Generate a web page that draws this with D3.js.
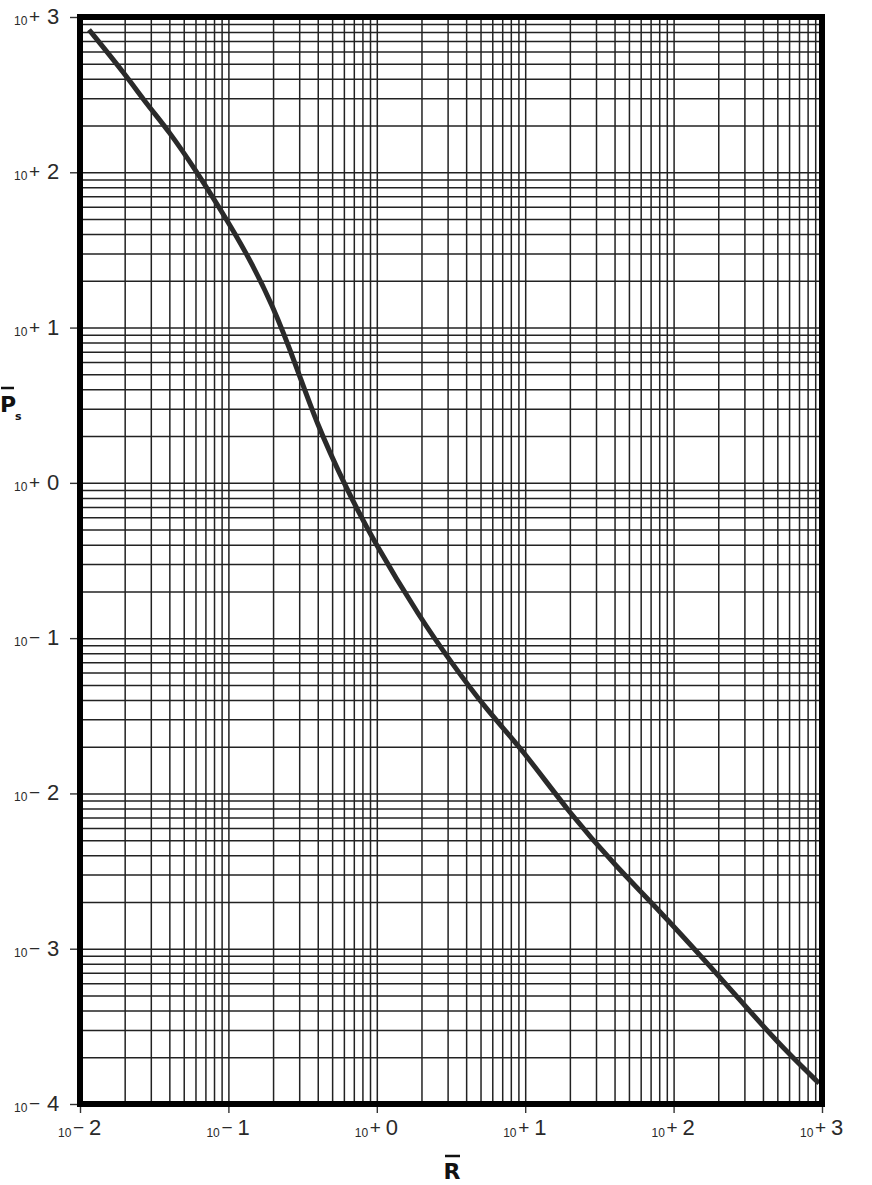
<!DOCTYPE html>
<html>
<head>
<meta charset="utf-8">
<script src="https://cdn.jsdelivr.net/npm/d3@7"></script>
<style>
  html, body { margin: 0; padding: 0; background: #fff; }
  svg { display: block; }
</style>
</head>
<body>
<script>
// ---- data ----
const xDecades = [-2, -1, 0, 1, 2, 3];          // exponents of R̄ axis
const yDecades = [-4, -3, -2, -1, 0, 1, 2, 3];  // exponents of P̄s axis
const xSignLabels = ["−", "−", "+", "+", "+", "+"];
const xDigitLabels = ["2", "1", "0", "1", "2", "3"];
const ySignLabels = ["−", "−", "−", "−", "+", "+", "+", "+"];
const yDigitLabels = ["4", "3", "2", "1", "0", "1", "2", "3"];
const minorMultipliers = [1, 2, 3, 4, 5, 6, 7, 8, 9];

// curve P̄s(R̄)
const curveR  = [0.0115, 0.0198, 0.0291, 0.0391, 0.0612, 0.0904, 0.131, 0.199, 0.288, 0.394, 0.607, 0.938, 2.00, 3.09, 5.48, 9.42, 19.8, 43.1, 71.8, 179, 420, 628, 955];
const curvePs = [828, 437, 264, 188, 101, 55.7, 30.8, 14.0, 5.58, 2.40, 0.97, 0.430, 0.131, 0.0724, 0.0345, 0.0196, 0.00748, 0.00321, 0.00197, 0.000762, 0.000300, 0.000201, 0.000136];

// ---- layout ----
const W = 872, H = 1185;
const pL = 80, pR = 822, pT = 17, pB = 1104;

const svg = d3.select("body").append("svg").attr("width", W).attr("height", H);

const x = d3.scaleLog().domain([1e-2, 1e3]).range([pL, pR]);
const y = d3.scaleLog().domain([1e-4, 1e3]).range([pB, pT]);

const gridX = [];
xDecades.slice(0, -1).forEach(e => minorMultipliers.forEach(m => gridX.push(m * Math.pow(10, e))));
gridX.push(1e3);
const gridY = [];
yDecades.slice(0, -1).forEach(e => minorMultipliers.forEach(m => gridY.push(m * Math.pow(10, e))));
gridY.push(1e3);

const gridColor = "#222";

// vertical grid
svg.append("g")
  .attr("transform", `translate(0,${pB})`)
  .call(d3.axisBottom(x).tickValues(gridX).tickSize(-(pB - pT)).tickFormat(""))
  .call(g => g.select(".domain").remove())
  .call(g => g.selectAll("line").attr("stroke", gridColor).attr("stroke-width", 1.5));

// horizontal grid
svg.append("g")
  .attr("transform", `translate(${pL},0)`)
  .call(d3.axisLeft(y).tickValues(gridY).tickSize(-(pR - pL)).tickFormat(""))
  .call(g => g.select(".domain").remove())
  .call(g => g.selectAll("line").attr("stroke", gridColor).attr("stroke-width", 1.5));

// decade ticks outside
const xDecVals = xDecades.map(e => Math.pow(10, e));
const yDecVals = yDecades.map(e => Math.pow(10, e));

svg.append("g")
  .attr("transform", `translate(0,${pB + 3})`)
  .call(d3.axisBottom(x).tickValues(xDecVals).tickSize(6).tickFormat(""))
  .call(g => g.select(".domain").remove())
  .call(g => g.selectAll("line").attr("stroke", "#333").attr("stroke-width", 1.4));

svg.append("g")
  .attr("transform", `translate(${pL - 3},0)`)
  .call(d3.axisLeft(y).tickValues(yDecVals).tickSize(7).tickFormat(""))
  .call(g => g.select(".domain").remove())
  .call(g => g.selectAll("line").attr("stroke", "#333").attr("stroke-width", 1.4));

// curve
const line = d3.line()
  .x((d, i) => x(curveR[i]))
  .y((d, i) => y(curvePs[i]))
  .curve(d3.curveBasis);
svg.append("path")
  .datum(curveR)
  .attr("d", line)
  .attr("fill", "none")
  .attr("stroke", "#2a2a2a")
  .attr("stroke-width", 5)
  .attr("stroke-linecap", "butt");

// border
svg.append("rect")
  .attr("x", pL).attr("y", pT)
  .attr("width", pR - pL).attr("height", pB - pT)
  .attr("fill", "none").attr("stroke", "#000").attr("stroke-width", 6);

// labels
const font = "'Liberation Sans', Arial, sans-serif";
const labColor = "#2a2a2a";

// x labels
const xl = svg.append("g").attr("fill", labColor).style("font-family", font);
xDecVals.forEach((v, i) => {
  const cx = x(v);
  xl.append("text").attr("x", cx - 22).attr("y", 1137).style("font-size", "12px").text("10");
  xl.append("text").attr("x", cx - 7).attr("y", 1134).style("font-size", "19px").text(xSignLabels[i]);
  xl.append("text").attr("x", cx + 9).attr("y", 1135).style("font-size", "22px").text(xDigitLabels[i]);
});

// y labels
const yl = svg.append("g").attr("fill", labColor).style("font-family", font);
yDecVals.forEach((v, i) => {
  const cy = y(v);
  yl.append("text").attr("x", 14).attr("y", cy + 8).style("font-size", "12px").text("10");
  yl.append("text").attr("x", 29).attr("y", cy + 6).style("font-size", "19px").text(ySignLabels[i]);
  yl.append("text").attr("x", 47).attr("y", cy + 7).style("font-size", "22px").text(yDigitLabels[i]);
});

// axis titles
const t = svg.append("g").attr("fill", "#111").style("font-family", "'DejaVu Sans', sans-serif").style("font-weight", "bold");
t.append("text").attr("x", 0).attr("y", 412).style("font-size", "22px").text("P");
t.append("text").attr("x", 15).attr("y", 420).style("font-size", "11px").text("s");
svg.append("line").attr("x1", 1).attr("x2", 14).attr("y1", 388).attr("y2", 388).attr("stroke", "#111").attr("stroke-width", 2.5);

t.append("text").attr("x", 452).attr("y", 1179).attr("text-anchor", "middle").style("font-size", "22px").text("R");
svg.append("line").attr("x1", 445).attr("x2", 460).attr("y1", 1156).attr("y2", 1156).attr("stroke", "#111").attr("stroke-width", 2.5);
</script>
</body>
</html>
